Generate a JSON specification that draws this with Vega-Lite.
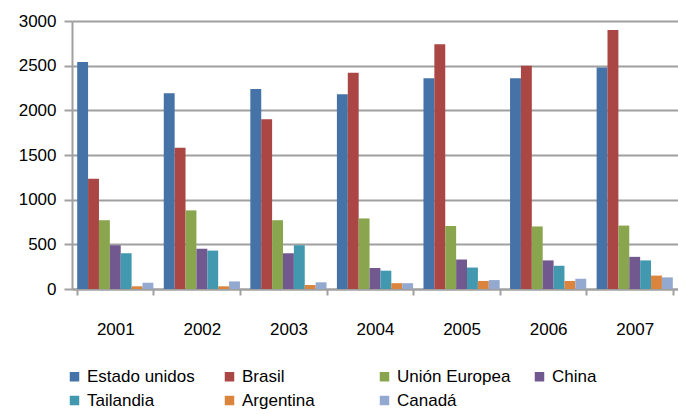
{
  "$schema": "https://vega.github.io/schema/vega-lite/v6.json",
  "width": 606,
  "height": 268,
  "autosize": "none",
  "padding": {"left": 72, "top": 21, "right": 0, "bottom": 125},
  "background": "white",
  "config": {
    "view": {"stroke": null},
    "font": "Liberation Sans, sans-serif"
  },
  "data": {
    "values": [
      {"year": "2001", "pais": "Estado unidos", "v": 2540},
      {"year": "2001", "pais": "Brasil", "v": 1235},
      {"year": "2001", "pais": "Unión Europea", "v": 770},
      {"year": "2001", "pais": "China", "v": 490},
      {"year": "2001", "pais": "Tailandia", "v": 400},
      {"year": "2001", "pais": "Argentina", "v": 30},
      {"year": "2001", "pais": "Canadá", "v": 70},
      {"year": "2002", "pais": "Estado unidos", "v": 2190},
      {"year": "2002", "pais": "Brasil", "v": 1580},
      {"year": "2002", "pais": "Unión Europea", "v": 880},
      {"year": "2002", "pais": "China", "v": 450},
      {"year": "2002", "pais": "Tailandia", "v": 430},
      {"year": "2002", "pais": "Argentina", "v": 30},
      {"year": "2002", "pais": "Canadá", "v": 85},
      {"year": "2003", "pais": "Estado unidos", "v": 2240},
      {"year": "2003", "pais": "Brasil", "v": 1900},
      {"year": "2003", "pais": "Unión Europea", "v": 770},
      {"year": "2003", "pais": "China", "v": 400},
      {"year": "2003", "pais": "Tailandia", "v": 490},
      {"year": "2003", "pais": "Argentina", "v": 45},
      {"year": "2003", "pais": "Canadá", "v": 75},
      {"year": "2004", "pais": "Estado unidos", "v": 2180},
      {"year": "2004", "pais": "Brasil", "v": 2420},
      {"year": "2004", "pais": "Unión Europea", "v": 790},
      {"year": "2004", "pais": "China", "v": 235},
      {"year": "2004", "pais": "Tailandia", "v": 205},
      {"year": "2004", "pais": "Argentina", "v": 65},
      {"year": "2004", "pais": "Canadá", "v": 65},
      {"year": "2005", "pais": "Estado unidos", "v": 2360},
      {"year": "2005", "pais": "Brasil", "v": 2740},
      {"year": "2005", "pais": "Unión Europea", "v": 705},
      {"year": "2005", "pais": "China", "v": 330},
      {"year": "2005", "pais": "Tailandia", "v": 240},
      {"year": "2005", "pais": "Argentina", "v": 90},
      {"year": "2005", "pais": "Canadá", "v": 100},
      {"year": "2006", "pais": "Estado unidos", "v": 2360},
      {"year": "2006", "pais": "Brasil", "v": 2500},
      {"year": "2006", "pais": "Unión Europea", "v": 700},
      {"year": "2006", "pais": "China", "v": 320},
      {"year": "2006", "pais": "Tailandia", "v": 260},
      {"year": "2006", "pais": "Argentina", "v": 90},
      {"year": "2006", "pais": "Canadá", "v": 115},
      {"year": "2007", "pais": "Estado unidos", "v": 2480},
      {"year": "2007", "pais": "Brasil", "v": 2900},
      {"year": "2007", "pais": "Unión Europea", "v": 710},
      {"year": "2007", "pais": "China", "v": 360},
      {"year": "2007", "pais": "Tailandia", "v": 320},
      {"year": "2007", "pais": "Argentina", "v": 150},
      {"year": "2007", "pais": "Canadá", "v": 130}
    ]
  },
  "mark": {"type": "bar", "stroke": null},
  "encoding": {
    "x": {
      "field": "year",
      "type": "nominal",
      "scale": {"paddingInner": 0.12, "paddingOuter": 0.06},
      "axis": {
        "title": null,
        "labelAngle": 0,
        "labelFontSize": 17,
        "labelColor": "#000000",
        "labelPadding": 26,
        "domainColor": "#a0a0a0",
        "domainWidth": 2,
        "tickColor": "#a0a0a0",
        "tickWidth": 2,
        "tickSize": 6,
        "tickBand": "extent",
        "grid": false
      }
    },
    "xOffset": {
      "field": "pais",
      "type": "nominal",
      "sort": ["Estado unidos", "Brasil", "Unión Europea", "China", "Tailandia", "Argentina", "Canadá"],
      "scale": {"paddingInner": 0}
    },
    "y": {
      "field": "v",
      "type": "quantitative",
      "scale": {"domain": [0, 3000]},
      "axis": {
        "title": null,
        "values": [0, 500, 1000, 1500, 2000, 2500, 3000],
        "format": "d",
        "labelFontSize": 17,
        "labelColor": "#000000",
        "labelPadding": 8,
        "domainColor": "#a0a0a0",
        "domainWidth": 2,
        "tickColor": "#a0a0a0",
        "tickWidth": 2,
        "tickSize": 8,
        "gridColor": "#a0a0a0",
        "gridWidth": 2
      }
    },
    "color": {
      "field": "pais",
      "type": "nominal",
      "sort": ["Estado unidos", "Brasil", "Unión Europea", "China", "Tailandia", "Argentina", "Canadá"],
      "scale": {
        "domain": ["Estado unidos", "Brasil", "Unión Europea", "China", "Tailandia", "Argentina", "Canadá"],
        "range": ["#4572A7", "#AA4643", "#89A54E", "#71588F", "#4198AF", "#DB843D", "#93A9CF"]
      },
      "legend": {
        "title": null,
        "orient": "none",
        "legendX": -6,
        "legendY": 347,
        "direction": "horizontal",
        "columns": 4,
        "gridAlign": "all",
        "symbolType": "square",
        "symbolSize": 90,
        "symbolStrokeWidth": 0,
        "labelFontSize": 17,
        "labelColor": "#000000",
        "labelOffset": 4,
        "labelLimit": 200,
        "columnPadding": 20,
        "rowPadding": 6
      }
    }
  }
}
